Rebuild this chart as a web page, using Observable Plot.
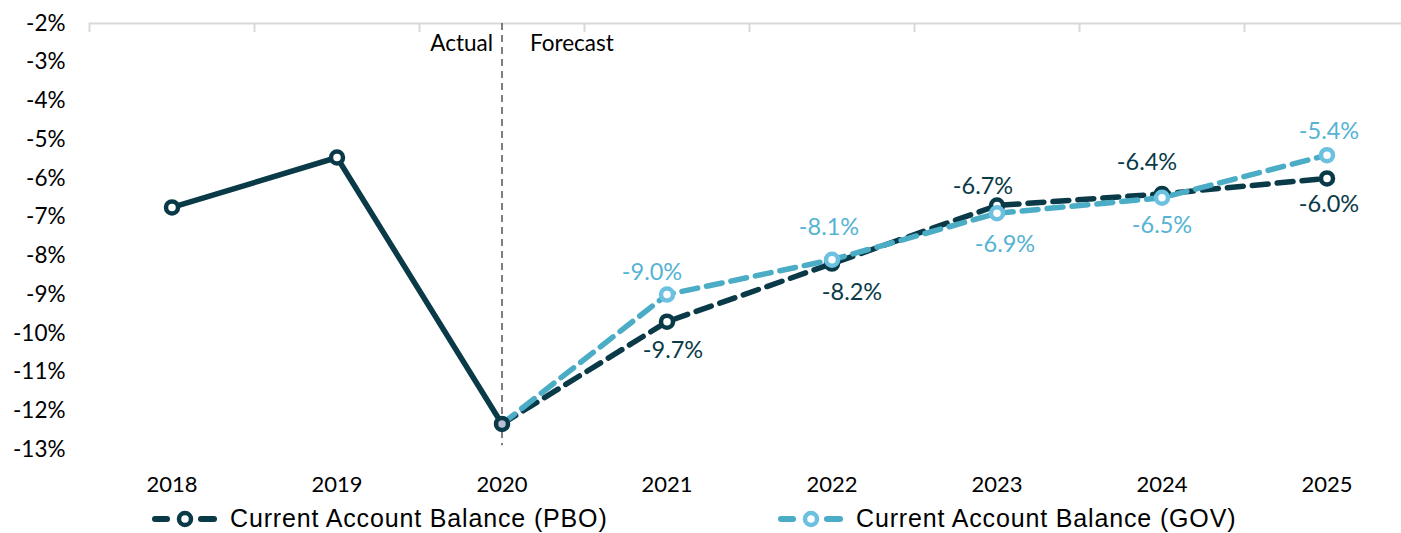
<!DOCTYPE html>
<html>
<head>
<meta charset="utf-8">
<script src="https://cdn.jsdelivr.net/npm/d3@7"></script>
<script src="https://cdn.jsdelivr.net/npm/@observablehq/plot@0.6"></script>
<style>
  html, body { margin: 0; padding: 0; background: white; }
  #wrap { position: relative; width: 1401px; height: 533px; overflow: hidden; }
  .leg { position: absolute; top: 504px; display: flex; align-items: center; font-family: "Liberation Sans", Arial, sans-serif; font-size: 25px; letter-spacing: 0.85px; color: #000; white-space: nowrap; }
  .leg svg { margin-right: 13px; }
</style>
</head>
<body>
<div id="wrap"></div>
<script>
// ---- data ----
const years = [2018, 2019, 2020, 2021, 2022, 2023, 2024, 2025];
const pboValues = [-6.75, -5.46, -12.34, -9.7, -8.2, -6.7, -6.4, -6.0];
const govValues = [null, null, -12.34, -9.0, -8.1, -6.9, -6.5, -5.4];
const forecastStart = 2020;
const yTicks = [-2, -3, -4, -5, -6, -7, -8, -9, -10, -11, -12, -13];
const seriesNames = ["Current Account Balance (PBO)", "Current Account Balance (GOV)"];
const dividerLabels = ["Actual", "Forecast"];

// ---- styles ----
const PBO = "#0A3A47";
const GOV_LINE = "#4BACC6";
const GOV_MARK = "#6CC0E0";
const GOV_TEXT = "#55B3D3";
const FONT = "Lato, 'Open Sans', sans-serif";
const H = 500, MT = 23, MB = 51;

const pbo = years.map((year, i) => ({year, value: pboValues[i]}));
const gov = years.map((year, i) => ({year, value: govValues[i]})).filter(d => d.value != null);
const pboActual = pbo.filter(d => d.year <= forecastStart);
const pboForecast = pbo.filter(d => d.year >= forecastStart);
const pboLabeled = pbo.filter(d => d.year > forecastStart);
const govLabeled = gov.filter(d => d.year > forecastStart);

// label placement offsets [dy, dx] in pixels
const pboPlace = {2021: [29, 6], 2022: [29, 20], 2023: [-19, -14], 2024: [-31, -15], 2025: [26, 2]};
const govPlace = {2021: [-22, -15], 2022: [-32, -3], 2023: [31, 8], 2024: [28, 0], 2025: [-24, 2]};

const fmt = v => v.toFixed(1) + "%";
const bandEdges = d3.range(years.length + 1).map(i => years[0] - 0.5 + i);

function labelMarks(data, place, color) {
  return data.map(d =>
    Plot.text([d], {
      x: "year", y: "value", text: dd => fmt(dd.value),
      dy: place[d.year][0], dx: place[d.year][1],
      fill: color, fontSize: 23.5, fontFamily: FONT
    })
  );
}

const chart = Plot.plot({
  width: 1401,
  height: H,
  marginTop: MT,
  marginBottom: MB,
  marginLeft: 89,
  marginRight: 0,
  style: {fontFamily: FONT, fontSize: "22px", color: "#000", background: "white"},
  x: {domain: [years[0] - 0.5, years[years.length - 1] + 0.5], range: [89, 1409], label: null},
  y: {domain: [-13, -2], label: null},
  marks: [
    // top category axis line (crosses at -2%) with short boundary ticks
    Plot.ruleY([-2], {stroke: "#D9D9D9", strokeWidth: 2}),
    Plot.tickX(bandEdges, {x: d => d, stroke: "#D9D9D9", strokeWidth: 2, insetBottom: (H - MT - MB) - 9}),
    Plot.axisY({ticks: yTicks, tickSize: 0, tickPadding: 24, tickFormat: d => d + "%", fontSize: 22.5, fontFamily: FONT, fill: "#000", label: null}),
    Plot.axisX({ticks: years, tickSize: 0, tickPadding: 27, tickFormat: d => String(d), fontSize: 22, fontFamily: FONT, fill: "#000", label: null}),
    // actual/forecast divider
    Plot.ruleX([forecastStart], {y1: -2, y2: -12.9, stroke: "#5F5F5F", strokeWidth: 1.6, strokeDasharray: "7,5"}),
    Plot.text([dividerLabels[0]], {x: () => forecastStart, frameAnchor: "top", dy: 12, dx: -9, textAnchor: "end", fontSize: 22.5, fontFamily: FONT, fill: "#000"}),
    Plot.text([dividerLabels[1]], {x: () => forecastStart, frameAnchor: "top", dy: 12, dx: 28, textAnchor: "start", fontSize: 22.5, fontFamily: FONT, fill: "#000"}),
    // lines
    Plot.line(pboActual, {x: "year", y: "value", stroke: PBO, strokeWidth: 5.5}),
    Plot.line(pboForecast, {x: "year", y: "value", stroke: PBO, strokeWidth: 5.5, strokeDasharray: "16,9"}),
    Plot.line(gov, {x: "year", y: "value", stroke: GOV_LINE, strokeWidth: 5.5, strokeDasharray: "16,9"}),
    // markers
    Plot.dot(pbo, {x: "year", y: "value", r: 6, stroke: PBO, strokeWidth: 4.5, fill: d => d.year === forecastStart ? "#B7C0D5" : "white"}),
    Plot.dot(govLabeled, {x: "year", y: "value", r: 6, stroke: GOV_MARK, strokeWidth: 4.5, fill: "white"}),
    // data labels
    ...labelMarks(pboLabeled, pboPlace, PBO),
    ...labelMarks(govLabeled, govPlace, GOV_TEXT)
  ]
});

const wrap = document.getElementById("wrap");
wrap.appendChild(chart);

// legend
function legendItem(name, lineColor, markColor, left) {
  const div = document.createElement("div");
  div.className = "leg";
  div.style.left = left + "px";
  div.innerHTML =
    `<svg width="65" height="22" viewBox="0 0 65 22">
       <line x1="3" y1="11" x2="15" y2="11" stroke="${lineColor}" stroke-width="6" stroke-linecap="round"/>
       <line x1="49" y1="11" x2="62" y2="11" stroke="${lineColor}" stroke-width="6" stroke-linecap="round"/>
       <circle cx="33" cy="11" r="6" fill="white" stroke="${markColor}" stroke-width="4.5"/>
     </svg><span>${name}</span>`;
  wrap.appendChild(div);
}
legendItem(seriesNames[0], PBO, PBO, 152);
legendItem(seriesNames[1], GOV_LINE, GOV_MARK, 778);
</script>
</body>
</html>
